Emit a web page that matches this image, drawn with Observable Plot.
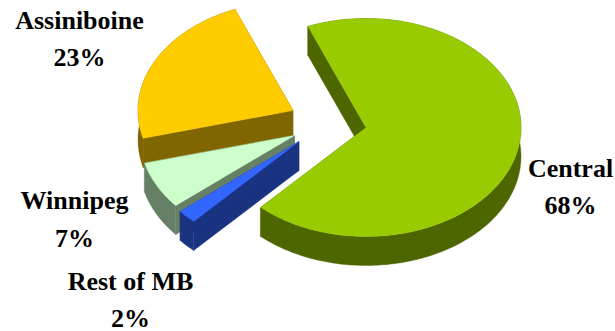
<!DOCTYPE html>
<html>
<head>
<meta charset="utf-8">
<script src="https://cdn.jsdelivr.net/npm/d3@7"></script>
<script src="https://cdn.jsdelivr.net/npm/@observablehq/plot@0.6"></script>
<style>
  html, body { margin: 0; padding: 0; background: #fff; }
  svg { display: block; }
</style>
</head>
<body>
<div id="chart"></div>
<script>
// Regional shares, clockwise from the start of the Central slice
const regions = ["Central", "Rest of MB", "Winnipeg", "Assiniboine"];
const shares = [68, 2, 7, 23];

// Face colours; each side wall is the same hue at half brightness
const faceColors = ["#99cc00", "#3366ff", "#ccffcc", "#ffcc00"];
const wallColors = ["#4d6600", "#1a3380", "#668066", "#806600"];

// Tilted-disc layout in plot units
const radiusX = 155, radiusY = 109, depth = 29, startAngle = -22;
const hubs = [[365.5, 127], [298.5, 141], [294, 135], [292.5, 110]];
const drawOrder = [3, 2, 1, 0];
const labelSpots = [
  [570, 176, 213],
  [130, 289, 326],
  [74, 208, 246],
  [79, 28, 65]
];

const rad = (d) => (d * Math.PI) / 180;

// Cumulative angular extent of each slice
let running = startAngle;
const spans = shares.map((s) => {
  const a0 = running;
  running += (s / 100) * 360;
  return [a0, running];
});

// Turn every slice into wall polygons plus a top face, painted back to front
const polygons = [];
function addPolygon(points, color) {
  const id = polygons.length ? polygons[polygons.length - 1].id + 1 : 0;
  points.forEach(([x, y]) => polygons.push({id, x, y, color}));
}
for (const i of drawOrder) {
  const [cx, cy] = hubs[i];
  const [a0, a1] = spans[i];
  const steps = Math.max(4, Math.ceil(a1 - a0));
  const arc = d3.range(steps + 1).map((k) => {
    const a = rad(a0 + ((a1 - a0) * k) / steps);
    return [cx + radiusX * Math.sin(a), cy - radiusY * Math.cos(a)];
  });
  const drop = ([x, y]) => [x, y + depth];
  const first = arc[0], last = arc[arc.length - 1], hub = [cx, cy];
  addPolygon([first, hub, drop(hub), drop(first)], wallColors[i]);
  addPolygon([last, hub, drop(hub), drop(last)], wallColors[i]);
  addPolygon([...arc, ...arc.map(drop).reverse()], wallColors[i]);
  addPolygon([hub, ...arc], faceColors[i]);
}

// Name and percentage sit on two separate lines
const labels = regions.flatMap((name, i) => [
  {text: name, x: labelSpots[i][0], y: labelSpots[i][1]},
  {text: `${shares[i]}%`, x: labelSpots[i][0], y: labelSpots[i][2]}
]);

const chart = Plot.plot({
  width: 615,
  height: 331,
  margin: 0,
  x: {domain: [0, 615], range: [0, 615], axis: null},
  y: {domain: [0, 331], range: [0, 331], axis: null},
  color: {type: "identity"},
  marks: [
    Plot.line(polygons, {
      x: "x", y: "y", z: "id",
      fill: "color", stroke: "color", strokeWidth: 0.4,
      curve: "linear-closed"
    }),
    Plot.text(labels, {
      x: "x", y: "y", text: "text",
      fill: "#000", textAnchor: "middle", lineAnchor: "bottom",
      fontFamily: "Liberation Serif", fontWeight: "bold", fontSize: 26
    })
  ]
});
document.getElementById("chart").appendChild(chart);
</script>
</body>
</html>
